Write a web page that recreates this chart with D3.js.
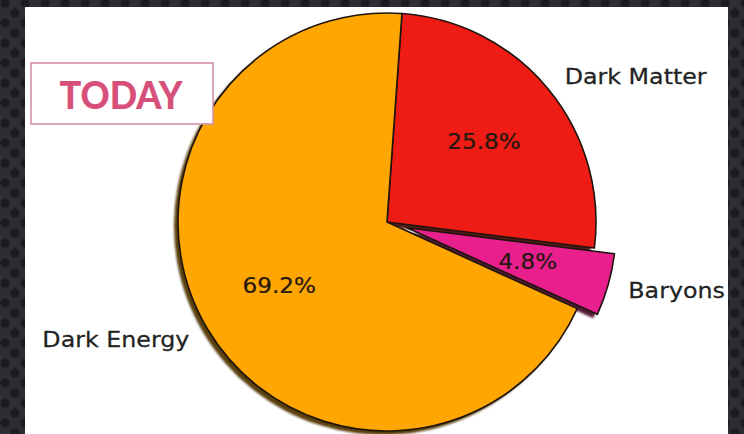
<!DOCTYPE html>
<html>
<head>
<meta charset="utf-8">
<script src="https://cdn.jsdelivr.net/npm/d3@7"></script>
<style>
  html, body { margin: 0; padding: 0; background: #2b2d32; }
  svg { display: block; }
</style>
</head>
<body>
<svg id="chart" width="744" height="434"></svg>
<script>
// Composition of the universe today
const categories = ["Dark Matter", "Baryons", "Dark Energy"];
const shares = [25.8, 4.8, 69.2];
const explode = [0, 0.1, 0];
const colors = ["#ef1b15", "#ea1f8e", "#ffa600"];
const title = "TODAY";

const W = 744, H = 434;
const cx = 387, cy = 222, R = 209;
const startDeg = 4.1;

const svg = d3.select("#chart");
const defs = svg.append("defs");

// dotted dark backdrop
const pat = defs.append("pattern")
  .attr("id", "dots").attr("patternUnits", "userSpaceOnUse")
  .attr("width", 20).attr("height", 20);
pat.append("rect").attr("width", 20).attr("height", 20).attr("fill", "#2c2e34");
[[5, 3], [15, 13], [5, 23], [-5, 13], [25, 13], [15, -7]].forEach(([x, y]) =>
  pat.append("circle").attr("cx", x).attr("cy", y).attr("r", 4.6).attr("fill", "#1b1c20"));
svg.append("rect").attr("width", W).attr("height", H).attr("fill", "url(#dots)");

// white slide panel
svg.append("rect").attr("x", 25).attr("y", 7).attr("width", 703).attr("height", H)
  .attr("fill", "#ffffff");

const blur = defs.append("filter").attr("id", "shadowBlur")
  .attr("x", "-10%").attr("y", "-10%").attr("width", "120%").attr("height", "120%");
blur.append("feGaussianBlur").attr("stdDeviation", 1.1);

const pie = d3.pie().sort(null)
  .startAngle(startDeg * Math.PI / 180)
  .endAngle(startDeg * Math.PI / 180 + 2 * Math.PI);
const arcs = pie(shares);
const arc = d3.arc().innerRadius(0).outerRadius(R);

function offset(d, i) {
  const mid = (d.startAngle + d.endAngle) / 2;
  const e = explode[i] * R;
  return [e * Math.sin(mid), -e * Math.cos(mid)];
}

const g = svg.append("g").attr("transform", `translate(${cx},${cy})`);

// drop shadows
g.append("g").attr("filter", "url(#shadowBlur)")
  .selectAll("path").data(arcs).join("path")
  .attr("transform", (d, i) => { const o = offset(d, i); return `translate(${o[0] - 4},${o[1] + 4})`; })
  .attr("d", arc)
  .attr("fill", (d, i) => d3.rgb(colors[i]).darker(3.2))
  .attr("opacity", 0.95);

// wedges
g.append("g").selectAll("path").data(arcs).join("path")
  .attr("transform", (d, i) => { const o = offset(d, i); return `translate(${o[0]},${o[1]})`; })
  .attr("d", arc)
  .attr("fill", (d, i) => colors[i])
  .attr("stroke", "#1e140c")
  .attr("stroke-width", 1.6)
  .attr("stroke-linejoin", "round");

// category labels and percentages
const labelFont = 22, pctFont = 21;
arcs.forEach((d, i) => {
  const mid = (d.startAngle + d.endAngle) / 2;
  const ux = Math.sin(mid), uy = -Math.cos(mid);
  const o = offset(d, i);
  const lx = o[0] + ux * R * 1.1, ly = o[1] + uy * R * 1.1;
  g.append("text")
    .attr("transform", `translate(${lx},${ly + labelFont * 0.34}) scale(1.08,1)`)
    .attr("text-anchor", ux > 0 ? "start" : "end")
    .attr("font-family", "DejaVu Sans")
    .attr("font-size", labelFont)
    .attr("fill", "#222222")
    .attr("stroke", "#222222")
    .attr("stroke-width", 0.25)
    .text(categories[i]);
  const px = o[0] + ux * R * 0.6, py = o[1] + uy * R * 0.6;
  g.append("text")
    .attr("transform", `translate(${px},${py + pctFont * 0.33}) scale(1.1,1)`)
    .attr("text-anchor", "middle")
    .attr("font-family", "DejaVu Sans")
    .attr("font-size", pctFont)
    .attr("fill", "#24180f")
    .attr("stroke", "#24180f")
    .attr("stroke-width", 0.25)
    .text(shares[i].toFixed(1) + "%");
});

// title badge
svg.append("rect").attr("x", 31).attr("y", 63).attr("width", 182).attr("height", 61)
  .attr("fill", "#ffffff").attr("stroke", "#d690aa").attr("stroke-width", 1.6);
svg.append("text")
  .attr("x", 121).attr("y", 109)
  .attr("text-anchor", "middle")
  .attr("font-family", "Lato")
  .attr("font-weight", 900)
  .attr("font-size", 38)
  .attr("textLength", 123)
  .attr("lengthAdjust", "spacingAndGlyphs")
  .attr("fill", "#d7507a")
  .text(title);
</script>
</body>
</html>
